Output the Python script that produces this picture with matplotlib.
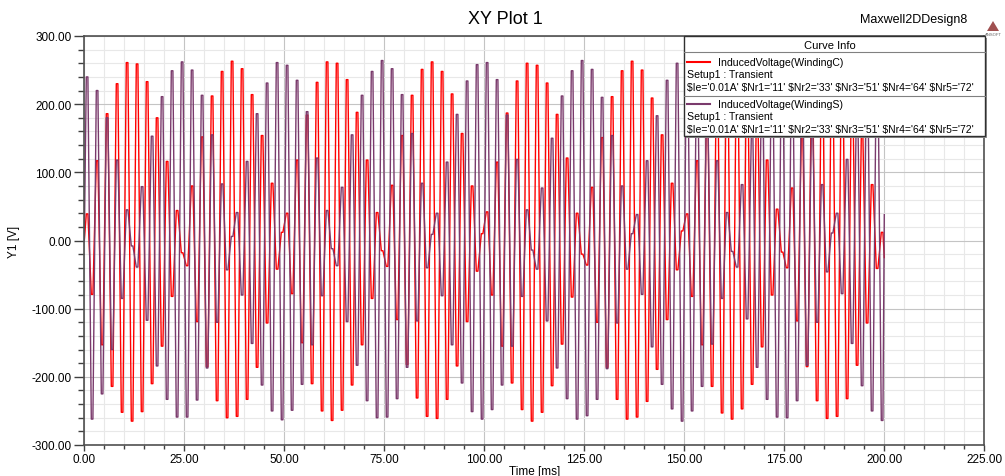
import numpy as np
import matplotlib.pyplot as plt
from matplotlib.patches import Rectangle, Polygon
from matplotlib.lines import Line2D
from matplotlib.ticker import MultipleLocator, FormatStrFormatter

plt.rcParams['font.family'] = ['Liberation Sans', 'DejaVu Sans']

W, H = 1005, 477

# half-cycle extrema of the induced voltages [V], one every 1.25 ms from 0.7 ms
first_sample_ms = 0.7
half_period_ms = 1.25
# the solver output sits on each peak for a short while
hold_ms = 0.2

winding_c = [
    39, -79, 117, -153, 186, -214, 230, -252, 261, -265, 259, -251, 233, -210, 180, -155, 116, -82, 44, -18,
    -37, 80, -119, 152, -185, 212, -235, 248, -260, 263, -258, 252, -233, 214, -186, 154, -121, 84, -42, 12,
    40, -78, 118, -150, 184, -210, 232, -250, 262, -264, 260, -249, 236, -212, 188, -153, 118, -85, 41, -15,
    -38, 81, -116, 154, -182, 213, -231, 251, -258, 262, -261, 248, -233, 215, -184, 157, -119, 80, -45, 10,
    42, -80, 115, -155, 187, -209, 234, -248, 260, -265, 257, -252, 231, -213, 185, -152, 121, -83, 40, -20,
    -36, 78, -120, 151, -186, 211, -233, 249, -262, 263, -259, 250, -236, 209, -189, 155, -116, 84, -43, 14,
    39, -82, 117, -153, 183, -214, 230, -253, 259, -262, 261, -247, 234, -211, 186, -156, 118, -80, 46, -17,
    -40, 77, -118, 152, -185, 210, -235, 250, -261, 264, -258, 251, -232, 214, -183, 153, -121, 82, -41, 12,
]

winding_s = [
    240, -262, 220, -225, 180, -160, 118, -85, 45, -8,
    -39, 79, -117, 153, -184, 211, -233, 249, -259, 262, -259, 250, -234, 213, -187, 155, -120, 83, -43, 6,
    41, -80, 116, -151, 186, -212, 231, -250, 261, -263, 257, -249, 235, -211, 189, -153, 121, -81, 44, -12,
    -37, 78, -119, 155, -183, 213, -235, 248, -260, 264, -259, 252, -232, 214, -186, 157, -118, 84, -40, 9,
    40, -81, 115, -153, 185, -209, 234, -251, 258, -262, 261, -248, 236, -212, 184, -155, 119, -82, 45, -14,
    -42, 77, -118, 150, -187, 212, -232, 249, -262, 264, -257, 251, -233, 210, -188, 154, -121, 80, -42, 10,
    38, -79, 117, -156, 183, -211, 235, -247, 260, -265, 259, -250, 231, -214, 186, -152, 117, -85, 41, -16,
    -39, 82, -115, 152, -186, 209, -233, 252, -259, 262, -260, 248, -235, 211, -183, 156, -120, 82, -46, 11,
    40, -78, 119, -151, 185, -213, 231, -250, 260, -264,
]

start_c, end_c = 0.0, -25.0
start_s, end_s = 0.0, 38.0
end_ms = 200.0

legend_names = ['InducedVoltage(WindingC)', 'InducedVoltage(WindingS)']
setup_text = 'Setup1 : Transient'
param_text = "$Ie='0.01A' $Nr1='11' $Nr2='33' $Nr3='51' $Nr4='64' $Nr5='72'"
colors = ['#ff0000', '#7a3a6c']

t_ext = first_sample_ms + half_period_ms * np.arange(len(winding_c))
t_hold = np.column_stack([t_ext - hold_ms, t_ext + hold_ms]).ravel()
t = np.concatenate([[0.0], t_hold, [end_ms]])
vc = np.concatenate([[start_c], np.repeat(winding_c, 2), [end_c]])
vs = np.concatenate([[start_s], np.repeat(winding_s, 2), [end_s]])

fig = plt.figure(figsize=(W / 100, H / 100), dpi=100)
ax = fig.add_axes([84.3 / W, 1 - 446 / H, 900 / W, 409 / H])

ax.plot(t, vc, color=colors[0], lw=1.0)
ax.plot(t, vs, color=colors[1], lw=1.0)

ax.set_xlim(0, 225)
ax.set_ylim(-300, 300)
ax.xaxis.set_major_locator(MultipleLocator(25))
ax.xaxis.set_minor_locator(MultipleLocator(5))
ax.yaxis.set_major_locator(MultipleLocator(100))
ax.yaxis.set_minor_locator(MultipleLocator(20))
ax.xaxis.set_major_formatter(FormatStrFormatter('%.2f'))
ax.yaxis.set_major_formatter(FormatStrFormatter('%.2f'))
ax.grid(which='minor', color='#e8e8e8', lw=0.8)
ax.grid(which='major', color='#c4c4c4', lw=0.8)
ax.set_axisbelow(True)

for s in ax.spines.values():
    s.set_color('#505050')
    s.set_linewidth(1.2)
ax.tick_params(axis='y', which='major', length=7.5, width=1.0, color='#404040',
               labelsize=8.5, pad=1.5)
ax.tick_params(axis='y', which='minor', length=4.5, width=1.0, color='#404040')
ax.tick_params(axis='x', which='major', length=4, width=1.0, color='#404040',
               labelsize=8.5, pad=2)
ax.tick_params(axis='x', which='minor', length=3, width=1.0, color='#404040')
ax.set_xlabel('Time [ms]', fontsize=8.5, labelpad=0)
ax.set_ylabel('Y1 [V]', fontsize=8.5, labelpad=8)


def fx(x):
    return x / W


def fy(y):
    return 1 - y / H


fig.text(fx(505), fy(20), 'XY Plot 1', fontsize=13, ha='center', va='center')
fig.text(fx(967), fy(20), 'Maxwell2DDesign8', fontsize=9, ha='right', va='center')

# small company mark in the corner
fig.patches.append(Polygon([[fx(987), fy(32)], [fx(999), fy(32)], [fx(993), fy(22)]],
                           closed=True, transform=fig.transFigure,
                           facecolor='#a05050', edgecolor='none'))
fig.text(fx(993), fy(35), 'ANSOFT', fontsize=3, ha='center', va='center', color='#606060')

# curve info box
box_l, box_t, box_r, box_b = 684, 37, 985, 137
fig.patches.append(Rectangle((fx(box_l + 2), fy(box_b + 2)), fx(box_r - box_l), (box_b - box_t) / H,
                             transform=fig.transFigure, facecolor='#909090',
                             edgecolor='none', zorder=9))
fig.patches.append(Rectangle((fx(box_l), fy(box_b)), fx(box_r - box_l), (box_b - box_t) / H,
                             transform=fig.transFigure, facecolor='white',
                             edgecolor='#303030', lw=1.0, zorder=10))
for yy in (52.7, 96.7):
    fig.lines.append(Line2D([fx(box_l), fx(box_r)], [fy(yy), fy(yy)], transform=fig.transFigure,
                            color='#808080', lw=0.8, zorder=11))
fig.text(fx(830), fy(46), 'Curve Info', fontsize=8, ha='center', va='center', zorder=12)
for i, (name, col) in enumerate(zip(legend_names, colors)):
    y0 = 62.5 + i * 42.5
    fig.lines.append(Line2D([fx(687), fx(710)], [fy(y0), fy(y0)], transform=fig.transFigure,
                            color=col, lw=1.5, zorder=12))
    fig.text(fx(718), fy(y0), name, fontsize=7.6, va='center', zorder=12)
    fig.text(fx(687), fy(y0 + 12.5), setup_text, fontsize=7.6, va='center', zorder=12)
    fig.text(fx(687), fy(y0 + 25.5), param_text, fontsize=7.5, va='center', zorder=12,
             parse_math=False)

fig.savefig('out.png', dpi=100, facecolor='white')
